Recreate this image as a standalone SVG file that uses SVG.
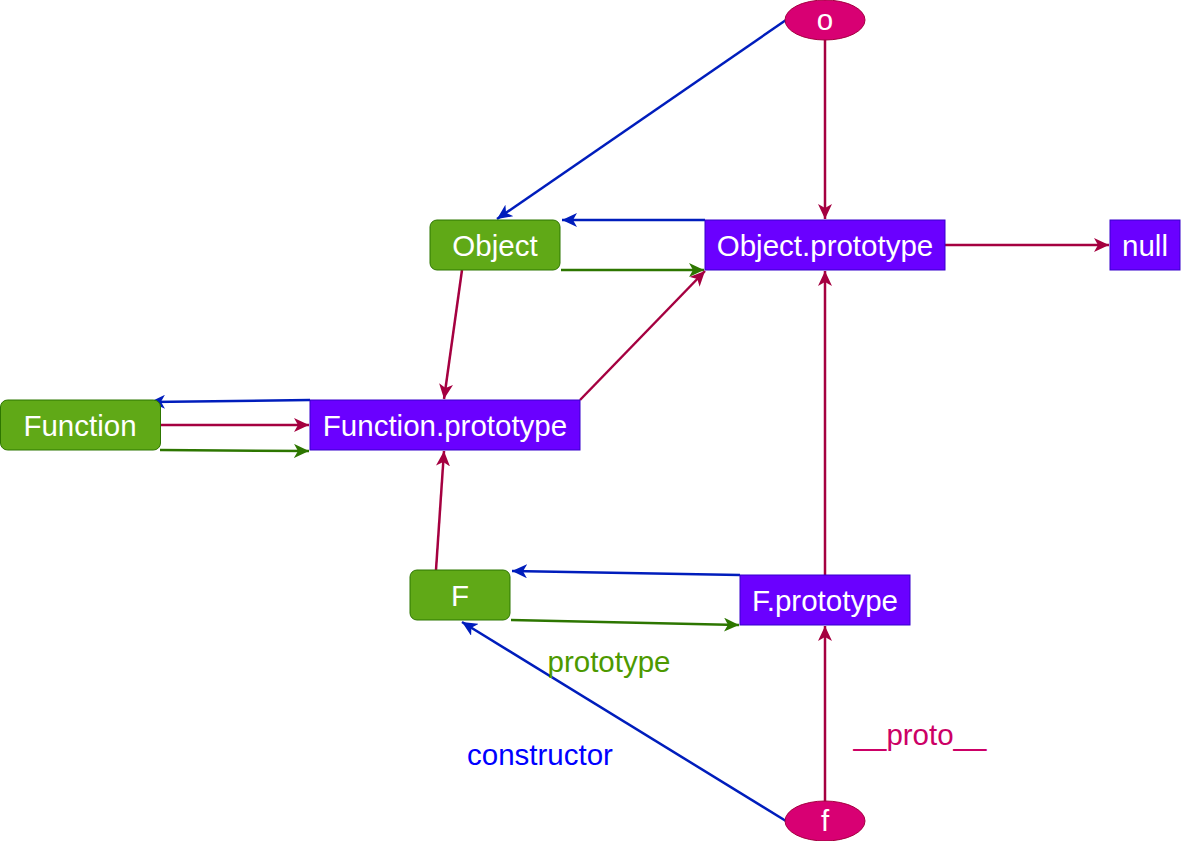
<svg xmlns="http://www.w3.org/2000/svg" width="1181" height="841" viewBox="0 0 1181 841">
<style>
.g{fill:#60a917;stroke:#2d7600;stroke-width:1}
.p{fill:#6a00ff;stroke:#3700cc;stroke-width:1}
.e{fill:#d80073;stroke:#a50040;stroke-width:1}
.t{font-family:"Liberation Sans",Arial,sans-serif;font-size:29.5px;fill:#ffffff;text-anchor:middle}
.lb{font-family:"Liberation Sans",Arial,sans-serif;font-size:29.5px;text-anchor:middle}
.b{stroke:#001dbc;stroke-width:2.5;fill:none;marker-end:url(#mb)}
.r{stroke:#a50040;stroke-width:2.5;fill:none;marker-end:url(#mr)}
.gr{stroke:#2d7600;stroke-width:2.5;fill:none;marker-end:url(#mg)}
</style>
<defs>
<marker id="mb" viewBox="0 0 15 14" refX="15" refY="7" markerWidth="15" markerHeight="14" markerUnits="userSpaceOnUse" orient="auto"><path d="M0,0 L15,7 L0,14 L4,7 Z" fill="#001dbc"/></marker>
<marker id="mr" viewBox="0 0 15 14" refX="15" refY="7" markerWidth="15" markerHeight="14" markerUnits="userSpaceOnUse" orient="auto"><path d="M0,0 L15,7 L0,14 L4,7 Z" fill="#a50040"/></marker>
<marker id="mg" viewBox="0 0 15 14" refX="15" refY="7" markerWidth="15" markerHeight="14" markerUnits="userSpaceOnUse" orient="auto"><path d="M0,0 L15,7 L0,14 L4,7 Z" fill="#2d7600"/></marker>
</defs>
<rect width="1181" height="841" fill="#ffffff"/>
<g id="connectors">
<path class="b" d="M786,20 L497,219"/>
<path class="r" d="M825,40 L825,219"/>
<path class="b" d="M705,220 L562,220"/>
<path class="gr" d="M561,270 L704,270"/>
<path class="r" d="M945,245 L1109,245"/>
<path class="r" d="M462,270 L444,399"/>
<path class="r" d="M580,400 L705,271"/>
<path class="b" d="M310,400 L150,402"/>
<path class="r" d="M160,425 L309,425"/>
<path class="gr" d="M160,450 L309,451"/>
<path class="r" d="M436,570 L444,451"/>
<path class="b" d="M740,575 L512,571"/>
<path class="gr" d="M511,620 L739,625"/>
<path class="r" d="M825,575 L825,271"/>
<path class="r" d="M825,801 L825,626"/>
<path class="b" d="M786,821 L462,622"/>
</g>
<g id="node-o"><ellipse class="e" cx="825" cy="20" rx="40" ry="20"/><text class="t" x="825" y="30">o</text></g>
<g id="node-object"><rect class="g" x="430" y="220" width="130" height="50" rx="7"/><text class="t" x="495" y="256">Object</text></g>
<g id="node-object-prototype"><rect class="p" x="705" y="220" width="240" height="50"/><text class="t" x="825" y="256">Object.prototype</text></g>
<g id="node-null"><rect class="p" x="1110" y="220" width="70" height="50"/><text class="t" x="1145" y="256">null</text></g>
<g id="node-function"><rect class="g" x="0.5" y="400" width="160" height="50" rx="7"/><text class="t" x="80" y="436">Function</text></g>
<g id="node-function-prototype"><rect class="p" x="310" y="400" width="270" height="50"/><text class="t" x="445" y="436">Function.prototype</text></g>
<g id="node-F"><rect class="g" x="410" y="570" width="100" height="50" rx="7"/><text class="t" x="460" y="606">F</text></g>
<g id="node-F-prototype"><rect class="p" x="740" y="575" width="170" height="50"/><text class="t" x="825" y="611">F.prototype</text></g>
<g id="node-f"><ellipse class="e" cx="825" cy="821" rx="40" ry="20"/><text class="t" x="825" y="831">f</text></g>
<g id="labels">
<text class="lb" x="609" y="672" fill="#4d9900">prototype</text>
<text class="lb" x="540" y="765" fill="#0000ff">constructor</text>
<text class="lb" x="920" y="745" fill="#cc0066">__proto__</text>
</g>
</svg>
